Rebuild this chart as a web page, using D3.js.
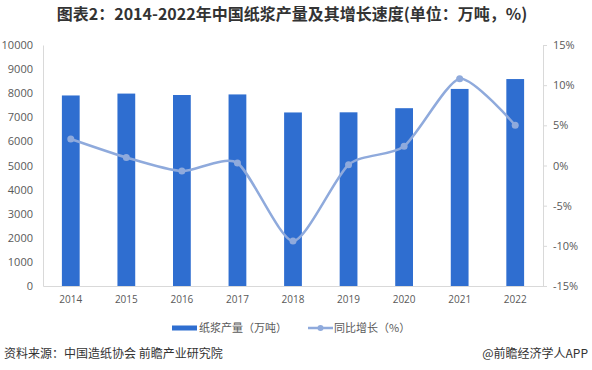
<!DOCTYPE html>
<html><head><meta charset="utf-8">
<script src="https://cdn.jsdelivr.net/npm/d3@7"></script>
<style>body{margin:0;background:#fff;}svg{display:block;font-family:"Noto Sans CJK SC","Microsoft YaHei",sans-serif;}</style>
</head><body>
<script>
const years = ["2014","2015","2016","2017","2018","2019","2020","2021","2022"];
const production = [7906, 7984, 7925, 7949, 7201, 7207, 7378, 8177, 8587];
const growth = [3.3, 1.0, -0.7, 0.3, -9.4, 0.1, 2.4, 10.8, 5.0];
const leftTicks = [0,1000,2000,3000,4000,5000,6000,7000,8000,9000,10000];
const rightTicks = [-15,-10,-5,0,5,10,15];
const title = "图表2：2014-2022年中国纸浆产量及其增长速度(单位：万吨，%)";
const seriesNames = ["纸浆产量（万吨）", "同比增长（%）"];
const source = "资料来源：中国造纸协会 前瞻产业研究院";
const credit = "@前瞻经济学人APP";

const W = 592, H = 370;
const m = {left: 43, right: 49, top: 45, bottom: 84};
const svg = d3.select("body").append("svg").attr("width", W).attr("height", H);
const barColor = "#2F6ED0", lineColor = "#8FAADC", textColor = "#595959";

const x = d3.scaleBand().domain(years).range([m.left, W - m.right]).paddingInner(0.68).paddingOuter(0.34);
const yL = d3.scaleLinear().domain([0, 10000]).range([H - m.bottom, m.top]);
const yR = d3.scaleLinear().domain([-15, 15]).range([H - m.bottom, m.top]);

// title
svg.append("text").attr("x", 292).attr("y", 20).attr("text-anchor", "middle")
  .attr("font-size", 16).attr("font-weight", "bold").attr("fill", "#333").text(title);

// bars
svg.append("g").selectAll("rect").data(years).join("rect")
  .attr("x", d => x(d)).attr("width", x.bandwidth())
  .attr("y", (d,i) => yL(production[i])).attr("height", (d,i) => yL(0) - yL(production[i]))
  .attr("fill", barColor);

// left axis
const gL = svg.append("g").attr("transform", `translate(${m.left},0)`)
  .call(d3.axisLeft(yL).tickValues(leftTicks).tickSize(0).tickPadding(10).tickFormat(d3.format("d")));
gL.select(".domain").attr("stroke", "#d9d9d9");
gL.selectAll("text").attr("font-size", 11).attr("fill", textColor).attr("font-family", "Open Sans, sans-serif");

// right axis
const gR = svg.append("g").attr("transform", `translate(${W - m.right},0)`)
  .call(d3.axisRight(yR).tickValues(rightTicks).tickSize(4).tickPadding(6).tickFormat(d => d + "%"));
gR.select(".domain").attr("stroke", "#d9d9d9");
gR.selectAll("line").attr("stroke", "#d9d9d9");
gR.selectAll("text").attr("font-size", 11).attr("fill", textColor).attr("font-family", "Open Sans, sans-serif");

// bottom axis
const gB = svg.append("g").attr("transform", `translate(0,${H - m.bottom})`)
  .call(d3.axisBottom(x).tickSize(0).tickPadding(10));
gB.select(".domain").attr("stroke", "#d9d9d9");
gB.selectAll("text").attr("font-size", 10).attr("fill", textColor).attr("font-family", "Open Sans, sans-serif");

// line
const cx = d => x(d) + x.bandwidth() / 2;
const line = d3.line().x((d,i) => cx(years[i])).y(d => yR(d)).curve(d3.curveCardinal.tension(0.3));
svg.append("path").datum(growth).attr("d", line).attr("fill", "none")
  .attr("stroke", lineColor).attr("stroke-width", 2.5);
svg.append("g").selectAll("circle").data(growth).join("circle")
  .attr("cx", (d,i) => cx(years[i])).attr("cy", d => yR(d)).attr("r", 3.5).attr("fill", lineColor);

// legend
const ly = 328;
svg.append("rect").attr("x", 172).attr("y", ly - 2.5).attr("width", 25).attr("height", 5).attr("fill", barColor);
svg.append("text").attr("x", 199).attr("y", ly + 4).attr("font-size", 11).attr("fill", textColor).text(seriesNames[0]);
svg.append("line").attr("x1", 308).attr("x2", 333).attr("y1", ly).attr("y2", ly).attr("stroke", lineColor).attr("stroke-width", 2.5);
svg.append("circle").attr("cx", 320.5).attr("cy", ly).attr("r", 3).attr("fill", lineColor);
svg.append("text").attr("x", 334).attr("y", ly + 4).attr("font-size", 11).attr("fill", textColor).text(seriesNames[1]);

// footer
svg.append("text").attr("x", 4).attr("y", 358).attr("font-size", 12).attr("fill", "#333").text(source);
svg.append("text").attr("x", 588).attr("y", 358).attr("text-anchor", "end").attr("font-size", 12).attr("fill", "#333").text(credit);
</script>
</body></html>
